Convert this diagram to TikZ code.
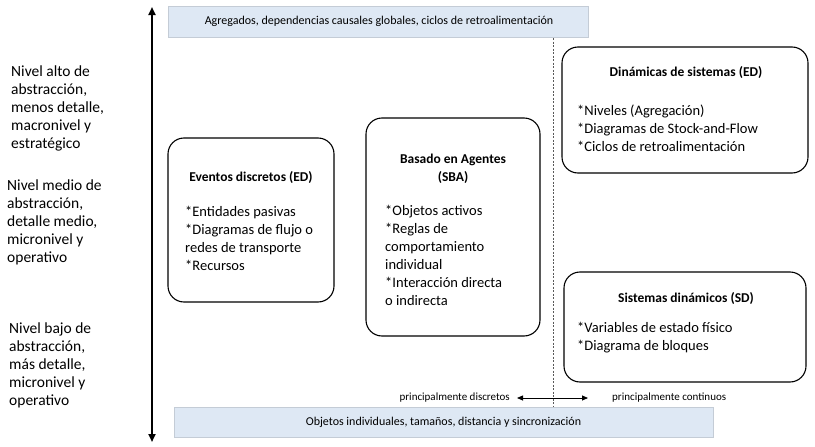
\documentclass[tikz,border=0pt]{standalone}
\usepackage{fontspec}
\setmainfont{Carlito}
\usetikzlibrary{arrows.meta}
\definecolor{bandfill}{HTML}{DEE8F4}
\definecolor{banddraw}{HTML}{C4CCD6}
\tikzset{
  band/.style={draw=banddraw, fill=bandfill, line width=0.8pt, inner sep=0pt},
  bandtxt/.style={font=\fontsize{12}{14}\selectfont, inner sep=0pt},
  rbox/.style={draw=black, line width=1.1pt, rounded corners=16pt, inner sep=0pt},
  ttl/.style={font=\fontsize{13.5}{18}\selectfont\bfseries, align=center, inner sep=0pt},
  itm/.style={font=\fontsize{14.5}{18}\selectfont, align=left, anchor=north west, inner sep=0pt},
  lvl/.style={font=\fontsize{15.5}{18}\selectfont, align=left, anchor=north west, inner sep=0pt},
  small/.style={font=\fontsize{11}{13}\selectfont, inner sep=0pt},
}
\begin{document}
\begin{tikzpicture}[x=1pt,y=-1pt]
\useasboundingbox (0,0) rectangle (815,447);
% bands
\node[band, minimum width=420pt, minimum height=31pt] (top) at (378,21.5) {};
\node[bandtxt] (toptxt) at (379,21) {Agregados, dependencias causales globales, ciclos de retroalimentación};
\node[band, minimum width=539pt, minimum height=30pt] (bot) at (443.5,422) {};
\node[bandtxt] (bottxt) at (443.5,422) {Objetos individuales, tamaños, distancia y sincronización};
% vertical axis
\coordinate (axT) at (152,7);
\coordinate (axB) at (152,442);
\draw[line width=2pt, {Triangle[length=8pt,width=7pt]}-{Triangle[length=8pt,width=7pt]}] (axT) -- (axB);
% dashed divider
\coordinate (dvT) at (553,38);
\coordinate (dvB) at (553,407);
\draw[line width=0.5pt, dash pattern=on 2pt off 1.5pt, gray!70!black] (dvT) -- (dvB);
% left level labels
\node[lvl] (l1) at (11,65.5) {Nivel alto de\\abstracción,\\menos detalle,\\macronivel y\\estratégico};
\node[lvl] (l2) at (7,179.5) {Nivel medio de\\abstracción,\\detalle medio,\\micronivel y\\operativo};
\node[lvl] (l3) at (9,322.5) {Nivel bajo de\\abstracción,\\más detalle,\\micronivel y\\operativo};
% Eventos discretos
\node[rbox, minimum width=166pt, minimum height=164pt] (ed) at (251,220) {};
\node[ttl] (edt) at (251,178) {Eventos discretos (ED)};
\node[itm] (edi) at (185,206.5) {*Entidades pasivas\\*Diagramas de flujo o\\redes de transporte\\*Recursos};
% SBA
\node[rbox, minimum width=174pt, minimum height=218pt] (sba) at (453,227) {};
\node[ttl] (sbat) at (453,169) {Basado en Agentes\\(SBA)};
\node[itm] (sbai) at (385,205) {*Objetos activos\\*Reglas de\\comportamiento\\individual\\*Interacción directa\\o indirecta};
% Dinamicas de sistemas
\node[rbox, minimum width=246pt, minimum height=126pt] (ds) at (685,110) {};
\node[ttl] (dst) at (686,73) {Dinámicas de sistemas (ED)};
\node[itm] (dsi) at (577,105) {*Niveles (Agregación)\\*Diagramas de Stock-and-Flow\\*Ciclos de retroalimentación};
% Sistemas dinamicos
\node[rbox, minimum width=242pt, minimum height=110pt] (sd) at (685,327) {};
\node[ttl] (sdt) at (686,299) {Sistemas dinámicos (SD)};
\node[itm] (sdi) at (577,322) {*Variables de estado físico\\*Diagrama de bloques};
% horizontal arrow
\coordinate (hL) at (517,398);
\coordinate (hR) at (588,398);
\draw[line width=0.8pt, {Triangle[length=6pt,width=5pt]}-{Triangle[length=6pt,width=5pt]}] (hL) -- (hR);
\node[small, anchor=east] (disc) at (510,398) {principalmente discretos};
\node[small, anchor=west] (cont) at (612,398) {principalmente continuos};
\end{tikzpicture}
\end{document}
